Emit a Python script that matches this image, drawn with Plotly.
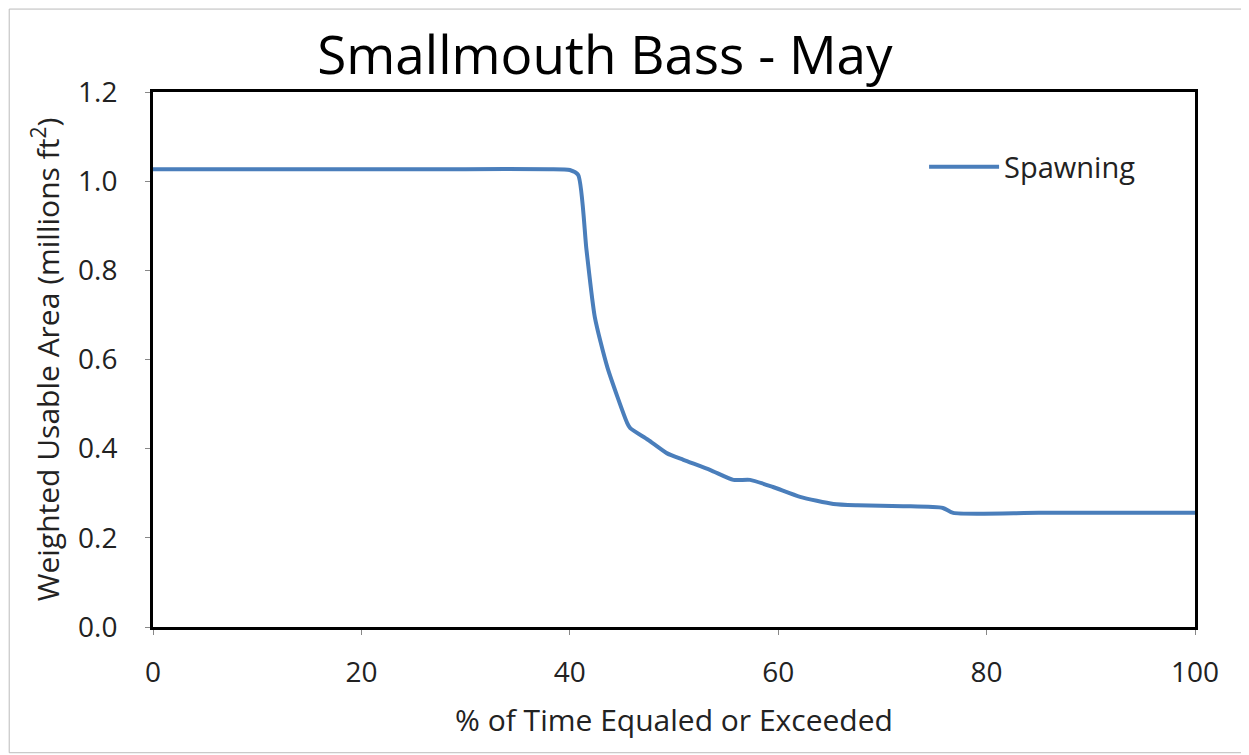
import plotly.graph_objects as go

pct_time = [0, 10, 20, 30, 38, 40, 40.8, 41.6, 42.4, 43.6, 45.5, 45.8, 47.5, 49.3, 50.9, 53.5, 55.7, 57.3, 59.5, 62.1, 65.3, 67.6, 72, 75.8, 76.8, 85, 100]
wua = [1.027, 1.027, 1.027, 1.027, 1.027, 1.025, 1.014, 0.846, 0.695, 0.583, 0.458, 0.446, 0.42, 0.390, 0.375, 0.352, 0.330, 0.330, 0.314, 0.292, 0.276, 0.273, 0.271, 0.267, 0.256, 0.256, 0.256]
series_name = "Spawning"
x_ticks = [0, 20, 40, 60, 80, 100]
y_ticks = [0.0, 0.2, 0.4, 0.6, 0.8, 1.0, 1.2]

font_family = "'Open Sans', Lato, sans-serif"

fig = go.Figure()
fig.add_trace(go.Scatter(
    x=pct_time, y=wua, mode="lines", name=series_name,
    line=dict(color="#4a7ebb", width=4, shape="spline", smoothing=0.6),
))

fig.update_layout(
    width=1241, height=747,
    paper_bgcolor="white", plot_bgcolor="white",
    margin=dict(l=145, r=54, t=84, b=128),
    title=dict(text="Smallmouth Bass - May", x=0.481, xanchor="center", y=0.937, yanchor="middle",
               font=dict(family=font_family, size=53, color="black")),
    showlegend=True,
    legend=dict(x=0.74, y=0.86, xanchor="left", yanchor="middle", bgcolor="rgba(0,0,0,0)",
                font=dict(family=font_family, size=29, color="#222"), itemwidth=70),
    font=dict(family=font_family, color="#222"),
)
fig.update_xaxes(
    range=[0, 100], tickvals=x_ticks, ticktext=[str(v) for v in x_ticks],
    showgrid=False, zeroline=False, showline=True, linecolor="black", linewidth=3, mirror=True,
    ticks="outside", ticklen=5, tickcolor="#888", tickfont=dict(size=28, color="#222"),
    ticklabelstandoff=13,
    title=dict(text="% of Time Equaled or Exceeded", font=dict(size=30, color="#222"), standoff=22),
)
fig.update_yaxes(
    range=[0, 1.2], tickvals=y_ticks, ticktext=[f"{v:.1f}" for v in y_ticks],
    showgrid=False, zeroline=False, showline=True, linecolor="black", linewidth=3, mirror=True,
    ticks="outside", ticklen=5, tickcolor="#888", tickfont=dict(size=28, color="#222"),
    ticklabelstandoff=22,
    title=dict(text="Weighted Usable Area (millions ft<sup>2</sup>)", font=dict(size=30, color="#222"), standoff=10),
)
fig.add_shape(type="rect", xref="paper", yref="paper", x0=-0.138, x1=1.05, y0=-0.235, y1=1.155,
              line=dict(color="#bbb", width=1))

fig.write_html("out.html")
